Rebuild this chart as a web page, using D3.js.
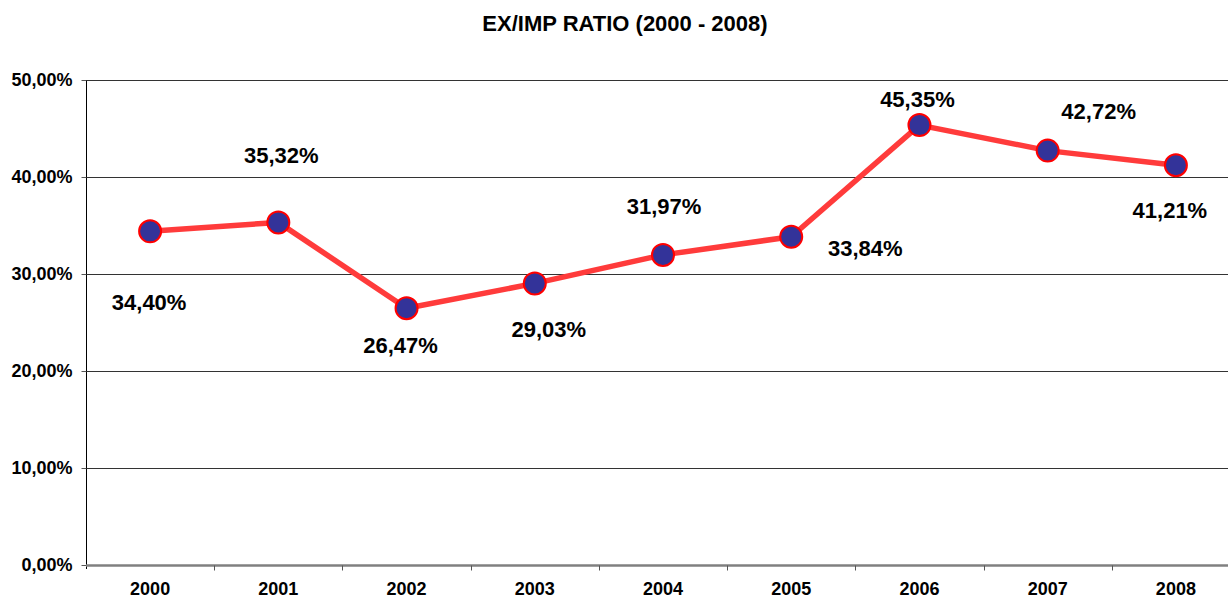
<!DOCTYPE html>
<html><head><meta charset="utf-8">
<script src="https://cdn.jsdelivr.net/npm/d3@7/dist/d3.min.js"></script>
<style>body{margin:0;background:#fff}svg{display:block}text{font-family:"Liberation Sans",Arial,sans-serif;font-weight:bold;fill:#000}</style>
</head><body><svg id="c" width="1228" height="598"></svg>
<script>
const years = ["2000","2001","2002","2003","2004","2005","2006","2007","2008"];
const ratio = [34.40, 35.32, 26.47, 29.03, 31.97, 33.84, 45.35, 42.72, 41.21];
const yTicks = [0, 10, 20, 30, 40, 50];
const title = "EX/IMP RATIO (2000 - 2008)";
// label placement offsets (dx, dy) relative to each point
const labelDx = [-1, 3, -6, 14, 1, 74, -2, 51, -6];
const labelDy = [71, -67, 37, 46, -49, 11, -26, -40, 45];

const fmt = v => v.toFixed(2).replace(".", ",") + "%";
const svg = d3.select("#c");
const m = {l: 86, r: 1240, t: 80, b: 565};
const x = d3.scaleBand().domain(years).range([m.l, m.r]);
const y = d3.scaleLinear().domain([0, 50]).range([m.b, m.t]);

svg.append("text").attr("x", 625).attr("y", 31).attr("text-anchor", "middle")
  .style("font-size", "22px").text(title);

// gridlines
svg.append("g").selectAll("line").data(yTicks.filter(d => d > 0)).join("line")
  .attr("x1", m.l).attr("x2", 1228).attr("y1", d => y(d) + 0.5).attr("y2", d => y(d) + 0.5)
  .attr("stroke", "#333").attr("stroke-width", 1);

// y axis
const ya = svg.append("g").attr("transform", `translate(${m.l + 0.5},0)`)
  .call(d3.axisLeft(y).tickValues(yTicks).tickFormat(d => d.toFixed(2).replace(".", ",") + "%").tickSize(5).tickPadding(9));
ya.select(".domain").attr("d", `M0,${m.t}V${m.b + 4}`).attr("stroke", "#000");
ya.selectAll(".tick line").attr("stroke", "#555");
ya.selectAll("text").style("font-size", "18px").attr("font-family", null);

// x axis
const xa = svg.append("g").attr("transform", `translate(0,${m.b + 0.5})`)
  .call(d3.axisBottom(x).tickSize(0).tickPadding(17));
xa.select(".domain").attr("d", `M${m.l},0H1228`).attr("stroke", "#808080").attr("stroke-width", 2.5);
xa.selectAll("text").style("font-size", "18px").attr("font-family", null);
xa.selectAll("line.bt").data(years.slice(1)).join("line").attr("class", "bt")
  .attr("x1", d => Math.round(x(d)) + 0.5).attr("x2", d => Math.round(x(d)) + 0.5)
  .attr("y1", 0).attr("y2", 5).attr("stroke", "#555").attr("stroke-width", 1);

const cx = (d, i) => x(years[i]) + x.bandwidth() / 2;
const line = d3.line().x((d, i) => cx(d, i)).y(d => y(d));
svg.append("path").datum(ratio).attr("d", line).attr("fill", "none")
  .attr("stroke", "#ff3b3b").attr("stroke-width", 5.5).attr("stroke-linejoin", "round");

svg.append("g").selectAll("circle").data(ratio).join("circle")
  .attr("cx", cx).attr("cy", d => y(d)).attr("r", 11)
  .attr("fill", "#333399").attr("stroke", "#ff0000").attr("stroke-width", 2);

svg.append("g").selectAll("text").data(ratio).join("text")
  .attr("x", (d, i) => cx(d, i) + labelDx[i]).attr("y", (d, i) => y(d) + labelDy[i] + 8)
  .attr("text-anchor", "middle").style("font-size", "22px").text(fmt);
</script></body></html>
